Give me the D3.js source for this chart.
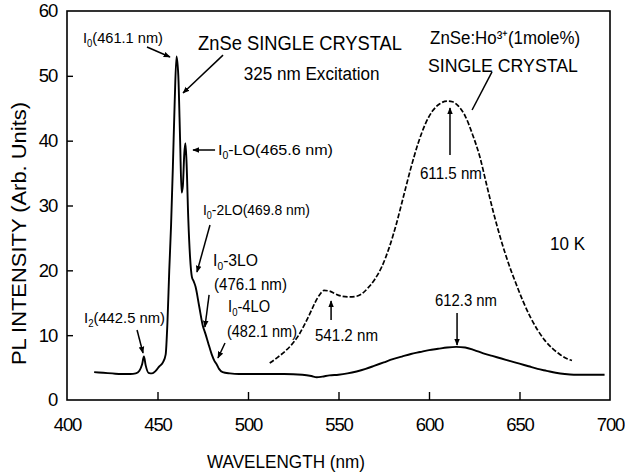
<!DOCTYPE html>
<html>
<head>
<meta charset="utf-8">
<script src="https://cdn.jsdelivr.net/npm/d3@7"></script>
<style>
html,body{margin:0;padding:0;background:#fff;}
svg{display:block;}
text{font-family:"Liberation Sans",Arial,sans-serif;fill:#000;}
</style>
</head>
<body>
<svg id="chart" width="625" height="473"></svg>
<script>
// ---- data ----
const xTicks = [400, 450, 500, 550, 600, 650, 700];
const yTicks = [0, 10, 20, 30, 40, 50, 60];

// ZnSe single crystal (solid)
const znseWavelength = [415,420,425,430,435,438,440,441.5,442.5,443.5,445,447,449,451,453,454.5,455.5,456.5,457.5,458.5,459.5,460.5,461.5,462.5,463.3,464,464.8,465.4,466,467,468,469,470,471,473,475,476.5,478,480,481.5,482.5,484,486,490,495,500,510,520,530,535,538,541,545,550,555,560,565,570,575,580,585,590,595,600,605,610,615,620,625,630,635,640,645,650,655,660,665,670,675,680,690,697];
const znseIntensity  = [4.3,4.2,4.1,4.0,4.0,4.1,4.5,5.5,6.7,5.3,4.2,4.1,4.5,5.2,5.8,7.0,12,20,27,36,46,53,50,40,32,33,38,39.6,37,28,22,19,18.3,17.5,14.5,11.5,10.2,8.8,7.0,6.0,5.6,4.8,4.3,4.1,4.0,4.0,4.0,4.0,3.9,3.7,3.5,3.6,3.8,3.9,4.1,4.4,4.8,5.3,5.8,6.3,6.7,7.1,7.4,7.7,7.9,8.1,8.2,8.1,7.7,7.2,6.8,6.4,6.0,5.6,5.2,4.8,4.5,4.2,4.0,3.9,3.9,3.9];

// ZnSe:Ho3+ (1 mole%) single crystal (dashed)
const hoWavelength = [512,516,520,524,528,531,534,537,540,542,545,548,552,556,560,563,566,570,574,578,582,586,590,594,598,602,606,610,613,616,620,624,628,632,636,640,644,648,652,656,660,664,668,672,676,679];
const hoIntensity  = [5.7,6.5,7.4,8.5,10.0,11.5,13.2,15.0,16.4,16.9,16.8,16.4,16.0,15.9,16.0,16.4,17.2,18.6,20.6,23.5,27.2,31.5,35.8,39.6,42.6,44.6,45.7,46.1,46.0,45.4,43.8,41.0,37.6,33.0,28.5,24.5,21.0,18.0,15.2,12.8,10.8,9.2,8.0,7.1,6.4,6.1];

// annotation labels ("|" marks a subscript)
const labelTexts = ["I|0|(461.1 nm)", "ZnSe SINGLE CRYSTAL", "325 nm Excitation", "I|0|-LO(465.6 nm)", "I|0|-2LO(469.8 nm)", "I|0|-3LO", "(476.1 nm)", "I|0|-4LO", "(482.1 nm)", "I|2|(442.5 nm)", "541.2 nm", "612.3 nm", "611.5 nm", "ZnSe:Ho³⁺(1mole%)", "SINGLE CRYSTAL", "10 K"];
const labelX = [408.8, 472.4, 497.6, 483.4, 475.1, 480.7, 481.2, 489.0, 488.4, 409.4, 537.0, 603.3, 595.0, 600.6, 599.4, 666.9];
const labelY = [55.07, 54.0, 49.36, 37.79, 28.54, 20.67, 16.97, 13.57, 9.72, 11.88, 9.1, 14.5, 34.09, 54.9, 50.6, 23.14];
const labelWidth = [80, 204, 136, 115, 107, 45, 73, 42, 70, 81, 63, 62, 62, 150, 150, 35];
const labelSize = [15.5, 21, 18, 15.5, 15.5, 16.5, 16.5, 16.5, 16.5, 15.5, 16, 16, 16, 18, 18, 19];

// arrows: from (x1,y1) to (x2,y2) in data units
const arrowX1 = [444.2, 486.2, 481.8, 479.0, 478.5, 487.3, 438.7, 545.9, 615.5, 611.6, 634.8];
const arrowY1 = [54.45, 53.2, 38.56, 26.99, 16.2, 8.79, 10.8, 12.34, 13.42, 37.79, 50.6];
const arrowX2 = [456.9, 464.1, 469.6, 471.8, 476.2, 483.4, 442.0, 545.9, 615.5, 611.6, 623.8];
const arrowY2 = [52.9, 47.35, 38.56, 19.74, 11.26, 6.48, 7.25, 15.27, 8.48, 45.04, 44.73];
const arrowHead = [true, true, true, true, true, true, true, true, true, true, false];

// ---- layout ----
const svg = d3.select("#chart");
const margin = {left: 67, right: 15, top: 11, bottom: 73};
const W = 625, H = 473;
const x = d3.scaleLinear().domain([400, 700]).range([margin.left, W - margin.right]);
const y = d3.scaleLinear().domain([0, 60]).range([H - margin.bottom, margin.top]);

svg.append("defs").append("marker")
  .attr("id", "ah").attr("viewBox", "0 0 10 10").attr("refX", 9).attr("refY", 5)
  .attr("markerWidth", 7).attr("markerHeight", 7).attr("markerUnits", "userSpaceOnUse")
  .attr("orient", "auto")
  .append("path").attr("d", "M0,1 L10,5 L0,9 Z").attr("fill", "#000");

// frame
svg.append("rect")
  .attr("x", x(400)).attr("y", y(60))
  .attr("width", x(700) - x(400)).attr("height", y(0) - y(60))
  .attr("fill", "none").attr("stroke", "#000").attr("stroke-width", 1.6);

// axes
const xAxis = svg.append("g").attr("transform", `translate(0,${y(0)})`)
  .call(d3.axisBottom(x).tickValues(xTicks).tickSize(-8).tickPadding(18).tickFormat(d3.format("d")));
const yAxis = svg.append("g").attr("transform", `translate(${x(400)},0)`)
  .call(d3.axisLeft(y).tickValues(yTicks).tickSize(-6).tickPadding(10).tickFormat(d3.format("d")));
[xAxis, yAxis].forEach(g => {
  g.select(".domain").remove();
  g.selectAll(".tick line").attr("stroke", "#000").attr("stroke-width", 1.4);
  g.selectAll(".tick text").attr("font-size", 18.5).attr("letter-spacing", -1.2)
    .attr("font-family", "'Liberation Sans', Arial, sans-serif").attr("fill", "#000");
});
xAxis.selectAll(".tick").filter(d => d === 400 || d === 700).select("line").remove();
yAxis.selectAll(".tick").filter(d => d === 0 || d === 60).select("line").remove();

// axis titles
svg.append("text").attr("x", 207).attr("y", 468)
  .attr("font-size", 19).attr("textLength", 158).attr("lengthAdjust", "spacingAndGlyphs")
  .text("WAVELENGTH  (nm)");
svg.append("text").attr("transform", "translate(26,365) rotate(-90)")
  .attr("font-size", 20).attr("textLength", 263).attr("lengthAdjust", "spacingAndGlyphs")
  .text("PL INTENSITY (Arb. Units)");

// curves
const line = d3.line().x(d => x(d[0])).y(d => y(d[1])).curve(d3.curveMonotoneX);
const znse = znseWavelength.map((w, i) => [w, znseIntensity[i]]);
const ho = hoWavelength.map((w, i) => [w, hoIntensity[i]]);
svg.append("path").datum(znse).attr("d", line)
  .attr("fill", "none").attr("stroke", "#000").attr("stroke-width", 1.9).attr("stroke-linejoin", "round");
svg.append("path").datum(ho).attr("d", line)
  .attr("fill", "none").attr("stroke", "#000").attr("stroke-width", 1.7).attr("stroke-dasharray", "5,2");

// arrows
arrowX1.forEach((_, i) => {
  const l = svg.append("line")
    .attr("x1", x(arrowX1[i])).attr("y1", y(arrowY1[i]))
    .attr("x2", x(arrowX2[i])).attr("y2", y(arrowY2[i]))
    .attr("stroke", "#000").attr("stroke-width", 1.5);
  if (arrowHead[i]) l.attr("marker-end", "url(#ah)");
});

// labels
labelTexts.forEach((t, i) => {
  const txt = svg.append("text").attr("x", x(labelX[i])).attr("y", y(labelY[i]))
    .attr("font-size", labelSize[i])
    .attr("textLength", labelWidth[i]).attr("lengthAdjust", "spacingAndGlyphs");
  if (t.includes("|")) {
    const [a, b, c] = t.split("|");
    txt.append("tspan").text(a);
    txt.append("tspan").attr("font-size", labelSize[i] * 0.65).attr("dy", 4).text(b);
    txt.append("tspan").attr("dy", -4).text(c);
  } else {
    txt.text(t);
  }
});
</script>
</body>
</html>
